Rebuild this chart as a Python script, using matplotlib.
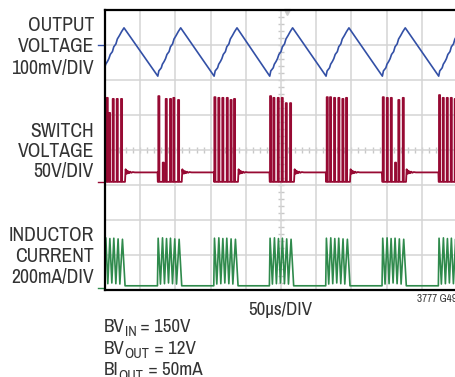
import matplotlib
matplotlib.use("Agg")
import matplotlib.pyplot as plt
from matplotlib import font_manager as fm

# time in µs (50µs/DIV, 10 div), vertical in scope divisions (8 div)
burst_start = [-5.5, 75, 155, 234, 314, 394, 474]

# output voltage: staircase rise during a burst (offset µs, rise in div above trough)
vout_trough = 6.11
vout_rise_t = [0, 1.5, 3.5, 5, 6.5, 9, 11, 13, 16, 18, 21, 23, 26, 29, 32.5]
vout_rise_v = [0, 0.15, 0.2, 0.24, 0.34, 0.42, 0.5, 0.62, 0.7, 0.84, 0.92, 1.06, 1.16, 1.27, 1.38]

# switch voltage: pulses per burst (µs) and their peak levels (div)
sw_pulse_t = [
    [2.4, 5.7, 10.9, 16.6, 22.7],
    [75.7, 82.0, 86.2, 92.3, 97.0, 103.7],
    [155.3, 160.9, 166.6, 172.9, 178.3, 183.2],
    [234.4, 239.1, 245.3, 251.0, 256.7, 262.8],
    [314.9, 319.6, 325.3, 331.4, 337.1, 342.3],
    [394.5, 400.2, 405.9, 411.9, 416.6, 422.9],
    [474.4, 479.7, 485.4, 491.1, 496.7],
]
sw_pulse_top = [
    [5.49, 5.06, 5.46, 5.46, 5.46],
    [5.54, 3.64, 5.46, 5.46, 5.49, 5.43],
    [5.51, 5.49, 5.49, 5.49, 5.43, 5.46],
    [5.54, 5.49, 5.49, 5.49, 5.34, 5.34],
    [5.51, 5.51, 5.49, 5.49, 5.46, 5.49],
    [5.51, 5.49, 5.49, 3.64, 5.43, 5.49],
    [5.57, 5.49, 5.49, 5.49, 5.46],
]
sw_low = 3.09
sw_rest = 3.36
ring_start = [28.4, 109, 188.9, 268.5, 348, 427.6]
ring_t = [0, 0.9, 1.8, 2.8, 3.8, 5.0, 6.2, 7.6, 9.0, 11.0, 14.0]
ring_v = [3.09, 3.45, 3.32, 3.41, 3.33, 3.39, 3.34, 3.38, 3.35, 3.37, 3.36]

# inductor current: zigzag during a burst (offset µs, level div)
ind_t = [-0.5, 0.5, 3.8, 6.7, 9.5, 12.4, 15.2, 18.0, 20.9, 24.1, 26.6, 30.3, 34.0]
ind_v = [0.12, 1.48, 0.17, 1.49, 0.18, 1.47, 0.2, 1.48, 0.18, 1.46, 0.17, 1.45, 0.12]

blue = '#3350a6'
red = '#970a33'
green = '#2f8a4c'
txt = '#333333'


def pick_font():
    # a narrow sans like the original, if one is installed
    ok_w = (400, 'normal', 'regular', 'book')
    for f in fm.fontManager.ttflist:
        if 'Narrow' in f.name and f.style == 'normal' and f.weight in ok_w:
            return f.fname
    for f in fm.fontManager.ttflist:
        if ('Condensed' in f.name or f.stretch in ('condensed', 'semi-condensed')) \
                and f.style == 'normal' and f.weight in ok_w and 'Mono' not in f.name \
                and 'Serif' not in f.name:
            return f.fname
    return fm.findfont('Liberation Sans')


font_file = pick_font()

fig = plt.figure(figsize=(4.56, 3.77), dpi=100)
renderer = fig.canvas.get_renderer()


def fp(size):
    return fm.FontProperties(fname=font_file, size=size)


# shrink the text if the font is wider than the original
probe = fig.text(0, 0, '100mV/DIV', fontproperties=fp(14.5))
scale = min(1.0, 82.6 / probe.get_window_extent(renderer).width)
probe.remove()

ax = fig.add_axes([105 / 456, 1 - 290 / 377, 352 / 456, 280 / 377])
ax.set_xlim(0, 500)
ax.set_ylim(0, 8)
ax.set_xticks(range(0, 501, 50))
ax.set_yticks(range(0, 9))
ax.tick_params(length=0, labelbottom=False, labelleft=False)
ax.grid(True, color='#d4d4d4', linewidth=1.1)
for s in ['left', 'top', 'bottom']:
    ax.spines[s].set_linewidth(1.6)
    ax.spines[s].set_zorder(5)
ax.spines['right'].set_visible(False)

# centre graticule ticks
ax.plot(range(0, 501, 10), [4] * 51, ls='none', marker='|', ms=4.5, mew=1, color='#c8c8c8', zorder=1)
ax.plot([250] * 41, [i / 5 for i in range(41)], ls='none', marker='_', ms=4.5, mew=1, color='#c8c8c8', zorder=1)
ax.plot([258], [7.93], marker='v', ms=5, color='#cccccc', clip_on=False, zorder=1)

# output voltage
vt, vv = [], []
for b in burst_start:
    vt += [b + d for d in vout_rise_t]
    vv += [vout_trough + d for d in vout_rise_v]
ax.plot(vt, vv, color=blue, lw=1.2, zorder=3)

# switch voltage
st, sv = [-6], [sw_low]
pw = 1.6
for k, (pts, tops) in enumerate(zip(sw_pulse_t, sw_pulse_top)):
    if k > 0:
        st += [burst_start[k] - 0.4, burst_start[k]]
        sv += [sw_rest, sw_low]
    for p, h in zip(pts, tops):
        st += [p, p, p + pw, p + pw]
        sv += [sw_low, h, h, sw_low]
    if k < len(ring_start):
        st += [ring_start[k] + d for d in ring_t]
        sv += ring_v
ax.plot(st, sv, color=red, lw=1.3, zorder=3)

# inductor current
it, iv = [], []
for b in burst_start:
    it += [b + d for d in ind_t]
    iv += ind_v
ax.plot(it, iv, color=green, lw=1.2, zorder=3)

# channel reference markers
ax.plot([-10, -3], [7.0, 7.0], color=blue, lw=1, clip_on=False)
ax.plot([-10, -3], [sw_low, sw_low], color=red, lw=1, clip_on=False)
ax.plot([-10, -3], [0.06, 0.06], color=green, lw=1, clip_on=False)

# channel labels
labels = [
    (['OUTPUT', 'VOLTAGE', '100mV/DIV'], [30.7, 52.2, 73.9]),
    (['SWITCH', 'VOLTAGE', '50V/DIV'], [136.7, 157.2, 177.5]),
    (['INDUCTOR', 'CURRENT', '200mA/DIV'], [240.7, 261.7, 282.7]),
]
for lines, ys in labels:
    for s, y in zip(lines, ys):
        fig.text(94 / 456, 1 - y / 377, s, ha='right', va='baseline',
                 fontproperties=fp(14.5 * scale), color=txt)

fig.text(280 / 456, 1 - 314.5 / 377, '50µs/DIV', ha='center', va='baseline',
         fontproperties=fp(14 * scale), color=txt)
fig.text(417 / 456, 1 - 302.5 / 377, '3777 G49', ha='left', va='baseline',
         fontproperties=fp(8.2 * scale), color=txt)

# test conditions with subscripts
cond_main = ['BV', 'BV', 'BI']
cond_sub = ['IN', 'OUT', 'OUT']
cond_rest = [' = 150V', ' = 12V', ' = 50mA']
cond_y = [331.7, 353.7, 375.3]
size = 14 * scale
for m, sb, rest, y in zip(cond_main, cond_sub, cond_rest, cond_y):
    x = 104 / 456
    yf = 1 - y / 377
    t1 = fig.text(x, yf, m, ha='left', va='baseline', fontproperties=fp(size), color=txt)
    x += t1.get_window_extent(renderer).width / 456
    t2 = fig.text(x, yf - 4.5 / 377, sb, ha='left', va='baseline',
                  fontproperties=fp(size * 0.75), color=txt)
    x += t2.get_window_extent(renderer).width / 456
    fig.text(x, yf, rest, ha='left', va='baseline', fontproperties=fp(size), color=txt)

fig.savefig('out.png', dpi=100)
